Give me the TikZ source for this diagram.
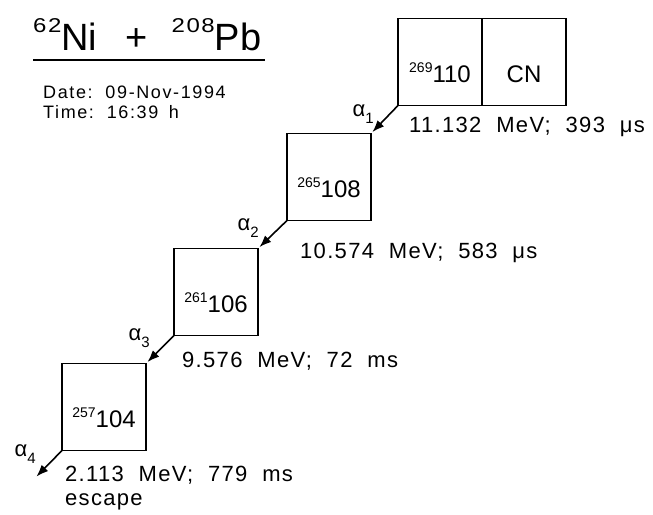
\documentclass[tikz,border=0pt]{standalone}
\usepackage{fontspec}
\setmainfont{Liberation Sans}
\newfontfamily\plotfont[LetterSpace=6, WordSpace=2]{Liberation Sans}
\newfontfamily\stampfont[LetterSpace=9, WordSpace=1.6]{Liberation Sans}
\newfontfamily\supfont[FakeStretch=1.2, LetterSpace=8]{Liberation Sans}
\usetikzlibrary{arrows.meta, positioning}

\newcommand{\nucl}[2]{\raisebox{10pt}{\fontsize{14}{14}\selectfont #1}#2}
\newcommand{\alp}[1]{α\raisebox{-7pt}{\fontsize{15}{15}\selectfont #1}}
\newcommand{\titlesup}[1]{\raisebox{18pt}{\supfont\fontsize{20}{20}\selectfont #1}}

\begin{document}
\begin{tikzpicture}[
    x=1pt, y=-1pt,
    >={Latex[length=12pt, width=9pt]},
    % -- shared styles --
    chain box/.style={draw, line width=1.8pt, outer sep=0pt, inner sep=0pt,
        minimum width=84pt, minimum height=87pt,
        font=\fontsize{24}{24}\selectfont, text height=40pt, text depth=0pt},
    decay arrow/.style={->, line width=1.6pt, shorten >=2pt},
    alpha label/.style={inner sep=0pt, font=\fontsize{22}{22}\selectfont},
    energy label/.style={anchor=base west, inner sep=0pt, align=left,
        font=\plotfont\fontsize{22}{24}\selectfont},
    stamp label/.style={anchor=base west, inner sep=0pt, align=left,
        font=\stampfont\fontsize{18}{20}\selectfont},
    reaction title/.style={anchor=base west, inner sep=0pt,
        font=\fontsize{38}{38}\selectfont},
]
\useasboundingbox (0,0) rectangle (653,514);

% -- heading: reaction, date and time --
\node[reaction title] (title) at (33,50)
    {\titlesup{62}Ni\hspace{28pt}+\hspace{24pt}\titlesup{208}Pb};
\draw[line width=1.5pt] ([yshift=-10pt]title.base west)
    -- ([xshift=4pt, yshift=-10pt]title.base east);
\node[stamp label] (stamp) at (43,118) {Date: 09-Nov-1994\\Time: 16:39 h};

% -- decay chain --
\node[chain box] (z110) at (440,62) {\nucl{269}{110}};
\node[chain box, right=0pt of z110] (cn) {CN};
\node[chain box] (z108) at (329,177) {\nucl{265}{108}};
\node[chain box] (z106) at (216,292) {\nucl{261}{106}};
\node[chain box] (z104) at (104,407) {\nucl{257}{104}};
\coordinate (lost) at (35,478);

\draw[decay arrow] (z110.south west) -- (z108.north east);
\draw[decay arrow] (z108.south west) -- (z106.north east);
\draw[decay arrow] (z106.south west) -- (z104.north east);
\draw[decay arrow] (z104.south west) -- (lost);

\node[alpha label, left=24pt of z110.south west, yshift=-9pt] (a1) {\alp{1}};
\node[alpha label, left=28pt of z108.south west, yshift=-8pt] (a2) {\alp{2}};
\node[alpha label, left=24pt of z106.south west, yshift=-3pt] (a3) {\alp{3}};
\node[alpha label, left=26pt of z104.south west, yshift=-4pt] (a4) {\alp{4}};

% -- energies and lifetimes --
\node[energy label] (e1) at (409,132) {11.132 MeV; 393 μs};
\node[energy label] (e2) at (300,258) {10.574 MeV; 583 μs};
\node[energy label] (e3) at (182,367) {9.576 MeV; 72 ms};
\node[energy label] (e4) at (65,505) {2.113 MeV; 779 ms\\escape};

\end{tikzpicture}
\end{document}
